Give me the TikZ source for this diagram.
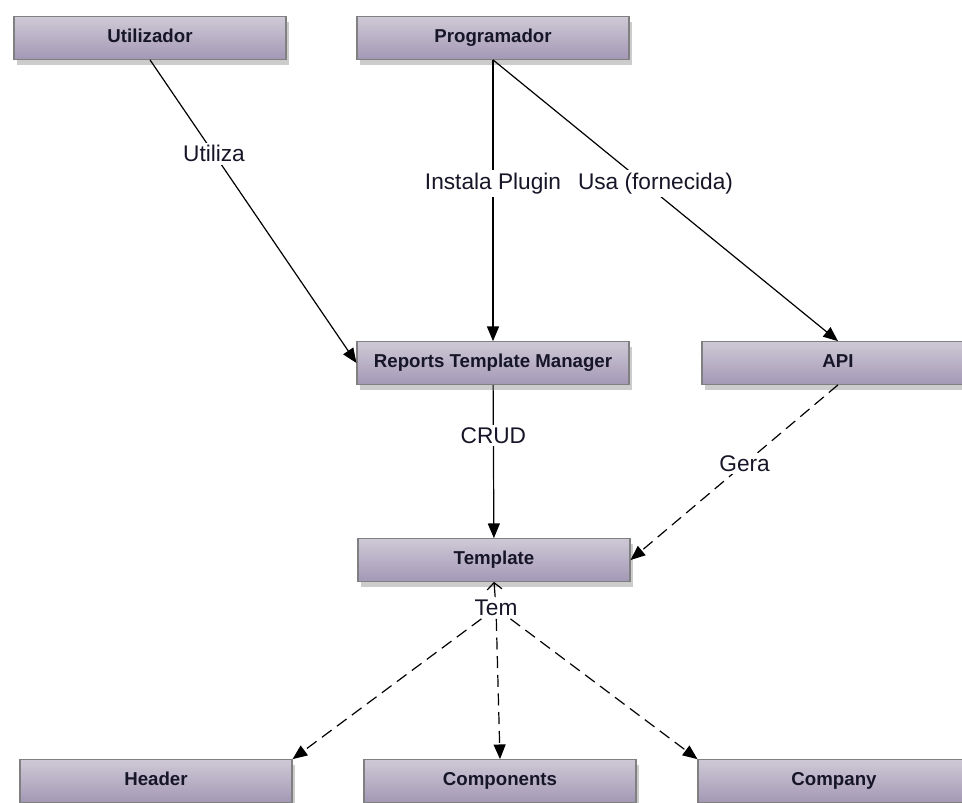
\documentclass[tikz,border=0pt]{standalone}
\usepackage{fontspec}
\setmainfont{Liberation Sans}
\usepackage{xcolor}
\usepackage{tikz}
\usetikzlibrary{positioning, arrows.meta, shadows}

\definecolor{boxtop}{RGB}{206,201,214}
\definecolor{boxbottom}{RGB}{164,152,181}
\definecolor{boxedge}{RGB}{128,128,128}
\definecolor{labeltext}{RGB}{22,22,40}

\begin{document}
\begin{tikzpicture}[
    x=0.75pt, y=-0.75pt, % coordenadas em pixels
    block/.style={rectangle, draw=boxedge, line width=0.8pt, top color=boxtop, bottom color=boxbottom, minimum width=204pt, minimum height=32pt, inner sep=0pt, text height=10pt, text depth=3pt, font=\fontsize{14}{16}\selectfont\bfseries, text=labeltext, drop shadow={shadow xshift=2pt, shadow yshift=-4pt, opacity=0.4}},
    relation/.style={draw, line width=0.9pt, -{Triangle[length=11pt, width=9pt]}},
    dashedrelation/.style={relation, dash pattern=on 9pt off 5pt},
    textrelation/.style={fill=white, inner sep=2pt, font=\fontsize{17}{19}\selectfont, text=labeltext}
]
\useasboundingbox (0,0) rectangle (962,802);

% Blocos
\node[block] (utilizador) at (150, 38) {Utilizador};
\node[block] (programador) at (493, 38) {Programador};
\node[block] (manager) at (493, 363) {Reports Template Manager};
\node[block] (api) at (838, 363) {API};
\node[block] (template) at (494, 560) {Template};
\node[block] (header) at (156, 781) {Header};
\node[block] (components) at (500, 781) {Components};
\node[block] (company) at (834, 781) {Company};

\node[textrelation, inner xsep=6pt] (tem) at (496, 608) {Tem};

% Relacoes
\draw[relation] (utilizador.south) -- node[textrelation, pos=0.31] {Utiliza} (manager.west);
\draw[relation] (programador.south) -- node[textrelation, pos=0.44] {Instala Plugin} (manager.north);
\draw[relation] (programador.south) -- node[textrelation, pos=0.44, xshift=8pt] {Usa (fornecida)} (api.north);
\draw[relation] (manager) -- node[textrelation, pos=0.33] {CRUD} (template);
\draw[dashedrelation] (api.south) -- node[textrelation, pos=0.45] {Gera} (template.east);
\draw[line width=0.9pt, -{Straight Barb[length=5pt, width=11pt]}] (tem) -- (template.south);
\draw[dashedrelation] (tem) -- (header.north east);
\draw[dashedrelation] (tem) -- (components.north);
\draw[dashedrelation] (tem) -- (company.north west);

\end{tikzpicture}
\end{document}
